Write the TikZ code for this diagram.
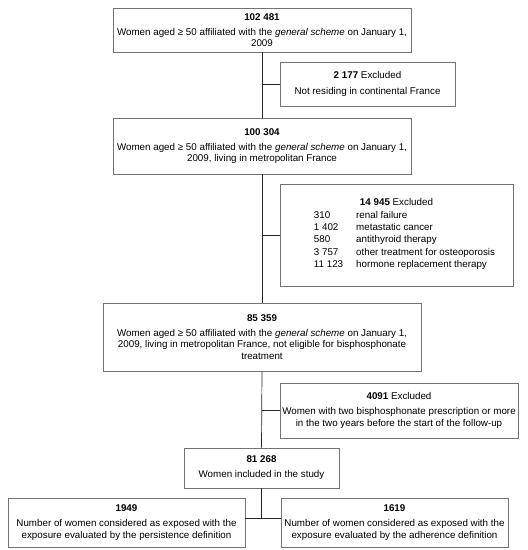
\documentclass[tikz,border=0pt]{standalone}
\usepackage{fontspec}
\setmainfont{Liberation Sans}
\usepackage{tikz}
\usetikzlibrary{positioning}
\tikzstyle{box} = [draw=black!55, line width=0.8pt, align=center, inner sep=2pt, font=\fontsize{9.8}{11.6}\selectfont]
\tikzstyle{line} = [black!85, line width=0.7pt]

\begin{document}
\begin{tikzpicture}[x=1pt,y=-1pt]
        \useasboundingbox (0,0) rectangle (528,550);
        \node[box, minimum width=298pt, minimum height=44pt] (all) at (262,30) {\textbf{102 481}\\[3.5pt]Women aged ≥ 50 affiliated with the \textit{general scheme} on January 1,\\2009};
        \node[box, minimum width=175pt, minimum height=44pt] (excl1) at (367.5,84) {\textbf{2 177} Excluded\\[3.5pt]Not residing in continental France};
        \node[box, minimum width=298pt, minimum height=56pt] (metro) at (262,146) {\textbf{100 304}\\[3.5pt]Women aged ≥ 50 affiliated with the \textit{general scheme} on January 1,\\2009, living in metropolitan France};
        \node[box, minimum width=233pt, minimum height=102pt, font=\fontsize{9.8}{12.4}\selectfont] (excl2) at (396.5,235) {\textbf{14 945} Excluded\\[2.5pt]
            \begin{tabular}{@{\hspace{16pt}}l@{\hspace{13pt}}l@{}}
            310 & renal failure\\
            1 402 & metastatic cancer\\
            580 & antithyroid therapy\\
            3 757 & other treatment for osteoporosis\\
            11 123 & hormone replacement therapy
            \end{tabular}};
        \node[box, minimum width=318pt, minimum height=68pt] (elig) at (262,337) {\textbf{85 359}\\[3.5pt]Women aged ≥ 50 affiliated with the \textit{general scheme} on January 1,\\2009, living in metropolitan France, not eligible for bisphosphonate\\treatment};
        \node[box, minimum width=238pt, minimum height=55pt] (excl3) at (399,410.5) {\textbf{4091} Excluded\\[3.5pt]Women with two bisphosphonate prescription or more\\in the two years before the start of the follow-up};
        \node[box, minimum width=155pt, minimum height=40pt] (incl) at (261.5,468) {\textbf{81 268}\\[3.5pt]Women included in the study};
        \node[box, minimum width=237pt, minimum height=49pt] (pers) at (126.5,522.5) {\textbf{1949}\\[3.5pt]Number of women considered as exposed with the\\exposure evaluated by the persistence definition};
        \node[box, minimum width=227pt, minimum height=49pt] (adh) at (394.5,522.5) {\textbf{1619}\\[3.5pt]Number of women considered as exposed with the\\exposure evaluated by the adherence definition};
        \coordinate (fork) at (261.5,518);
        % trunk
        \draw[line] (all.south) -- (metro.north);
        \draw[line] (metro.south) -- (elig.north);
        \draw[line] (elig.south) -- (incl.north);
        \draw[line] (incl.south) -- (fork);
        % side boxes
        \draw[line] (excl1.west) -- (excl1.west -| all.south);
        \draw[line] (excl2.west) -- (excl2.west -| metro.south);
        \draw[line] (excl3.west) -- (excl3.west -| elig.south);
        \draw[line] (fork -| pers.east) -- (fork -| adh.west);
    \end{tikzpicture}
\end{document}
